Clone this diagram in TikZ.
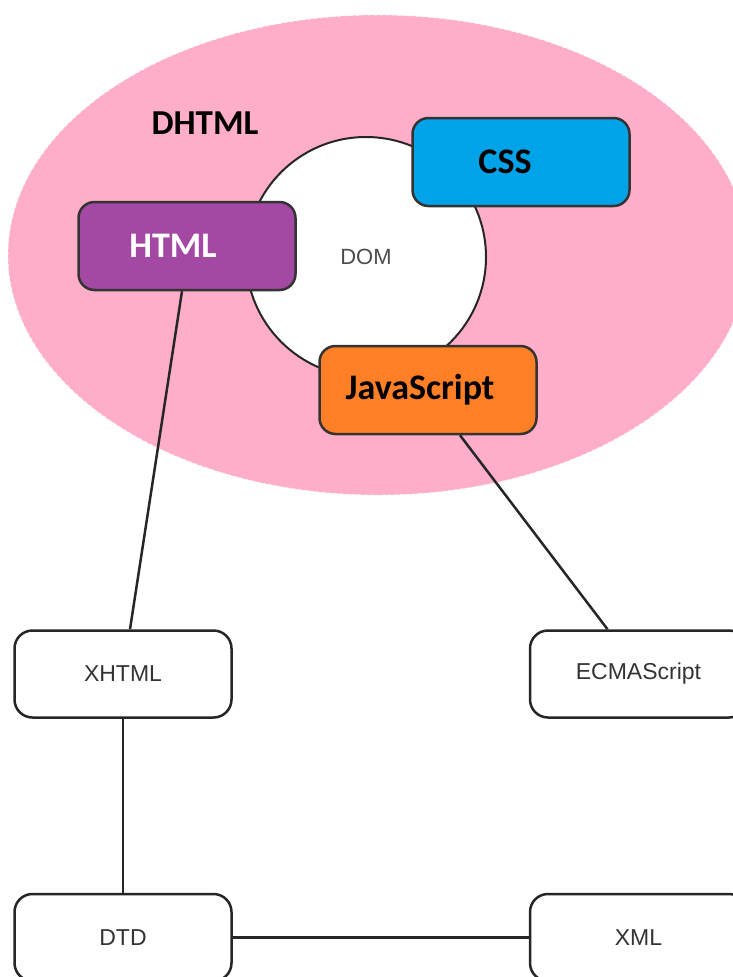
\documentclass[tikz,border=0pt]{standalone}
\usepackage{fontspec}
\usetikzlibrary{positioning}
\usepackage{xcolor}
\newfontfamily\calfont{Carlito}
\newfontfamily\arialfont{Liberation Sans}
\definecolor{dhtmlpink}{RGB}{255,174,201}
\definecolor{cssblue}{RGB}{0,162,232}
\definecolor{htmlpurple}{RGB}{163,73,164}
\definecolor{jsorange}{RGB}{255,127,39}

\begin{document}
\begin{tikzpicture}[x=1pt, y=-1pt, node distance=174pt]
\tikzset{
    webbox/.style={rectangle, rounded corners=16pt, draw=black!80, line width=2.5pt, minimum width=217pt, minimum height=88pt, font=\calfont\bfseries\fontsize{36}{40}\selectfont},
    stdbox/.style={rectangle, rounded corners=18pt, draw=black!85, line width=2.5pt, fill=white, minimum width=217pt, minimum height=87pt, text=black!80, font=\arialfont\fontsize{23}{27}\selectfont},
    myline/.style={line width=2.5pt, draw=black!85}
}
\useasboundingbox (0,0) rectangle (732,977);
% the DHTML area runs off the right edge
\filldraw[fill=dhtmlpink, draw=white, dashed, line width=0.5pt] (378,255) ellipse [x radius=370pt, y radius=240pt];
\node[font=\calfont\bfseries\fontsize{35}{40}\selectfont] (dhtml) at (205,123) {DHTML};
\node[circle, draw=black!85, line width=2pt, fill=white, minimum size=240pt, text=black!70, font=\arialfont\fontsize{22}{25}\selectfont] (dom) at (366,257) {DOM};

\node[webbox, fill=cssblue] (css) at (521,162) {\hspace*{-32pt}CSS};
\node[webbox, fill=htmlpurple, text=white] (html) at (187,246) {\hspace*{-28pt}HTML};
\node[webbox, fill=jsorange] (js) at (428,390) {\hspace*{-16pt}JavaScript};

\node[stdbox] (xhtml) at (123,674) {XHTML};
\node[stdbox, below=of xhtml] (dtd) {DTD};
\node[stdbox, right=296pt of dtd] (xml) {XML};
\node[stdbox, above=of xml] (ecma) {ECMAScript};

\draw[myline] ([xshift=-5pt]html.south) -- ([xshift=7pt]xhtml.north);
\draw[myline] ([xshift=32pt]js.south) -- ([xshift=-31pt]ecma.north);
\draw[myline] (xhtml) -- (dtd);
\draw[myline] (dtd) -- (xml);
\end{tikzpicture}
\end{document}
